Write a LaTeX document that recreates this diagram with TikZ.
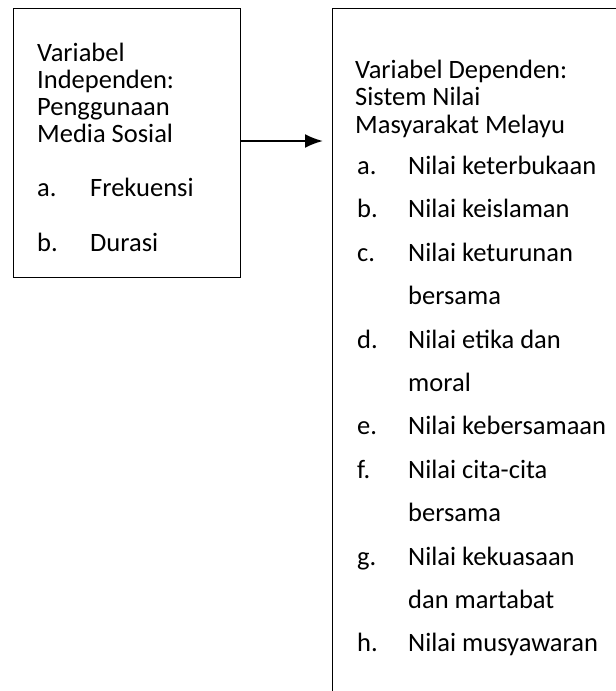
\documentclass[tikz,border=0pt]{standalone}
\usepackage{fontspec}
\setmainfont{Carlito}
\usetikzlibrary{arrows.meta}

\begin{document}
\begin{tikzpicture}[x=1pt,y=-1pt,>={Latex[length=18pt,width=14pt]},
    txt/.style={anchor=base west,inner sep=0pt,font=\fontsize{26.5}{28}\selectfont},
    box/.style={draw,line width=1.3pt,anchor=north west,inner sep=0pt}]

        \useasboundingbox (0,0) rectangle (616,691);
        \clip (0,0) rectangle (616,691);

        % Boxes
        \node[box,minimum width=227pt,minimum height=269pt] (indep) at (13,8) {};
        \node[box,minimum width=400pt,minimum height=800pt] (dep) at (332,8) {};

        % Independent variable
        \node[txt] (i1) at (37,61) {Variabel};
        \node[txt] (i2) at (37,88) {Independen:};
        \node[txt] (i3) at (37,115) {Penggunaan};
        \node[txt] (i4) at (37,142) {Media Sosial};
        \node[txt] (ia) at (37,196) {\makebox[53pt][l]{a.}Frekuensi};
        \node[txt] (ib) at (37,251) {\makebox[53pt][l]{b.}Durasi};

        % Dependent variable
        \node[txt] (d1) at (355,78) {Variabel Dependen:};
        \node[txt] (d2) at (355,105) {Sistem Nilai};
        \node[txt] (d3) at (355,133) {Masyarakat Melayu};
        \node[txt] (da) at (357,174) {\makebox[51pt][l]{a.}Nilai keterbukaan};
        \node[txt] (db) at (357,217) {\makebox[51pt][l]{b.}Nilai keislaman};
        \node[txt] (dc) at (357,261) {\makebox[51pt][l]{c.}Nilai keturunan};
        \node[txt] (dc2) at (408,304) {bersama};
        \node[txt] (dd) at (357,348) {\makebox[51pt][l]{d.}Nilai etika dan};
        \node[txt] (dd2) at (408,391) {moral};
        \node[txt] (de) at (357,434) {\makebox[51pt][l]{e.}Nilai kebersamaan};
        \node[txt] (df) at (357,478) {\makebox[51pt][l]{f.}Nilai cita-cita};
        \node[txt] (df2) at (408,521) {bersama};
        \node[txt] (dg) at (357,565) {\makebox[51pt][l]{g.}Nilai kekuasaan};
        \node[txt] (dg2) at (408,608) {dan martabat};
        \node[txt] (dh) at (357,651) {\makebox[51pt][l]{h.}Nilai musyawaran};

        % Arrow
        \coordinate (arm) at (0,141);
        \draw[->,line width=2.2pt,shorten >=9pt] (indep.east |- arm) -- (dep.west |- arm);

    \end{tikzpicture}
\end{document}
